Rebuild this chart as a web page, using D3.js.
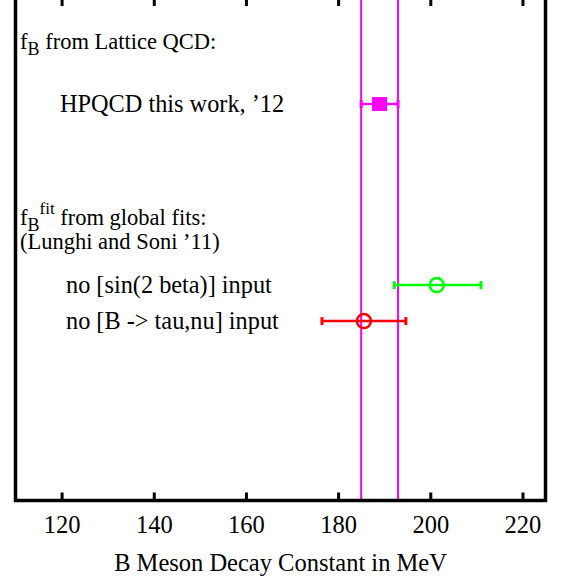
<!DOCTYPE html>
<html>
<head>
<meta charset="utf-8">
<script src="https://cdn.jsdelivr.net/npm/d3@7"></script>
<style>
  body { margin: 0; background: #fff; }
</style>
</head>
<body>
<svg id="chart" width="561" height="579"></svg>
<script>
// x axis
var xDomain = [110, 225];
var xTicks = [120, 140, 160, 180, 200, 220];
var xTitle = "B Meson Decay Constant in MeV";

// lattice band (HPQCD central value +- error)
var band = [185, 193];

// measurements: value, error low/high, row
var points = [
  {name: "HPQCD this work, \u201912", value: 189, lo: 185, hi: 193, row: 2.89, color: "#ff00ff", shape: "square"},
  {name: "no [sin(2 beta)] input", value: 201.4, lo: 192.2, hi: 211.0, row: 7.92, color: "#00ff00", shape: "circle"},
  {name: "no [B -> tau,nu] input", value: 185.6, lo: 176.5, hi: 194.7, row: 8.92, color: "#ff0000", shape: "circle"}
];

// headings
var headings = [
  {row: 1.17, main: "f", sub: "B", sup: null, rest: " from Lattice QCD:"},
  {row: 6.05, main: "f", sub: "B", sup: "fit", rest: " from global fits:"},
  {row: 6.72, main: "(Lunghi and Soni \u201911)", sub: null, sup: null, rest: ""}
];

var FONT = "'Liberation Serif', 'Times New Roman', Times, serif";
var svg = d3.select("#chart").style("font-family", FONT);
var margin = {top: -2, right: 15.5, bottom: 78.5, left: 15.5};
var W = 561, H = 579;
var fs = 22.5, fsLabel = 24.3;

var x = d3.scaleLinear().domain(xDomain).range([margin.left, W - margin.right]);
var y = d3.scaleLinear().domain([0, 1]).range([0, 36]);

//Band lines
svg.selectAll(".band")
  .data(band)
  .enter().append("line")
  .attr("x1", function(d){ return x(d); })
  .attr("x2", function(d){ return x(d); })
  .attr("y1", margin.top)
  .attr("y2", H - margin.bottom)
  .attr("stroke", "#ff00ff")
  .attr("stroke-width", 2);

//Frame
svg.append("rect")
  .attr("x", margin.left)
  .attr("y", margin.top)
  .attr("width", W - margin.left - margin.right)
  .attr("height", H - margin.bottom - margin.top)
  .attr("fill", "none")
  .attr("stroke", "#000")
  .attr("stroke-width", 3.5);

//Bottom axis, ticks pointing in
var bottomAxis = svg.append("g")
  .attr("transform", "translate(0," + (H - margin.bottom) + ")")
  .call(d3.axisBottom(x).tickValues(xTicks).tickSize(-8).tickPadding(32).tickFormat(d3.format("d")));
bottomAxis.attr("font-size", null).attr("font-family", null);
bottomAxis.select(".domain").remove();
bottomAxis.selectAll(".tick line").attr("stroke", "#000").attr("stroke-width", 3);
bottomAxis.selectAll(".tick text")
  .style("font-family", FONT)
  .style("font-size", "24.5px")
  .attr("dy", "0");

//Top axis ticks
var topAxis = svg.append("g")
  .attr("transform", "translate(0," + margin.top + ")")
  .call(d3.axisTop(x).tickValues(xTicks).tickSize(-8).tickFormat(""));
topAxis.select(".domain").remove();
topAxis.selectAll(".tick line").attr("stroke", "#000").attr("stroke-width", 3);

//Axis title
svg.append("text")
  .attr("x", (margin.left + W - margin.right) / 2)
  .attr("y", 571)
  .attr("text-anchor", "middle")
  .style("font-family", FONT)
  .style("font-size", "24.5px")
  .text(xTitle);

//Headings
headings.forEach(function(h){
  var t = svg.append("text")
    .attr("x", 20)
    .attr("y", y(h.row) + 7)
    .style("font-family", FONT)
    .style("font-size", fs + "px");
  t.append("tspan").text(h.main);
  if (h.sub) t.append("tspan").style("font-size", "18px").attr("dy", 6).text(h.sub);
  if (h.sup) t.append("tspan").style("font-size", "17px").attr("dy", -17).text(h.sup);
  var back = (h.sub ? 6 : 0) + (h.sup ? -17 : 0);
  t.append("tspan").attr("dy", -back).text(h.rest);
});

//Point labels
svg.selectAll(".plabel")
  .data(points)
  .enter().append("text")
  .attr("x", function(d, i){ return i === 0 ? 60 : 66; })
  .attr("y", function(d){ return y(d.row) + 7.5; })
  .style("font-family", FONT)
  .style("font-size", fsLabel + "px")
  .text(function(d){ return d.name; });

//Error bars
var g = svg.selectAll(".pt")
  .data(points)
  .enter().append("g")
  .attr("transform", function(d){ return "translate(0," + y(d.row) + ")"; });

g.append("line")
  .attr("x1", function(d){ return x(d.lo); })
  .attr("x2", function(d){ return x(d.hi); })
  .attr("stroke", function(d){ return d.color; })
  .attr("stroke-width", 2.5);

g.selectAll(".cap")
  .data(function(d){ return [{v: d.lo, c: d.color}, {v: d.hi, c: d.color}]; })
  .enter().append("line")
  .attr("x1", function(d){ return x(d.v); })
  .attr("x2", function(d){ return x(d.v); })
  .attr("y1", -4)
  .attr("y2", 4)
  .attr("stroke", function(d){ return d.c; })
  .attr("stroke-width", 3);

g.filter(function(d){ return d.shape === "square"; })
  .append("rect")
  .attr("x", function(d){ return x(d.value) - 7.5; })
  .attr("y", -7)
  .attr("width", 15)
  .attr("height", 14)
  .attr("fill", function(d){ return d.color; });

g.filter(function(d){ return d.shape === "circle"; })
  .append("circle")
  .attr("cx", function(d){ return x(d.value); })
  .attr("r", 7)
  .attr("fill", "none")
  .attr("stroke", function(d){ return d.color; })
  .attr("stroke-width", 2.5);
</script>
</body>
</html>
